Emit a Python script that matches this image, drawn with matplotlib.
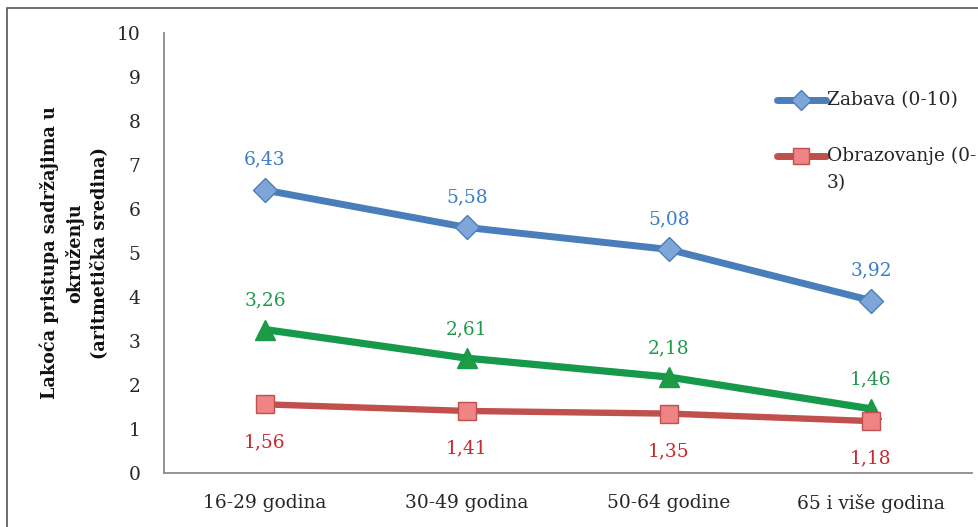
import matplotlib
matplotlib.use("Agg")
import matplotlib.pyplot as plt
from matplotlib.lines import Line2D
from matplotlib.patches import Rectangle

categories = ["16-29 godina", "30-49 godina", "50-64 godine", "65 i više godina"]
zabava = [6.43, 5.58, 5.08, 3.92]
treca = [3.26, 2.61, 2.18, 1.46]
obrazovanje = [1.56, 1.41, 1.35, 1.18]
yticks = list(range(0, 11))
legend_labels = ["Zabava (0-10)", "Obrazovanje (0-", "3)"]
ylabel = "Lakoća pristupa sadržajima u\nokruženju\n(aritmetička sredina)"

plt.rcParams["font.family"] = ["DejaVu Serif"]

W, H = 979, 527
fig = plt.figure(figsize=(W / 100, H / 100), dpi=100)
ax = fig.add_axes([164 / W, 1 - 473 / H, 808 / W, 440 / H])

blue, blue_fill, blue_lab = "#4A7EBB", "#7FA6D8", "#3B7DC8"
green, green_fill, green_lab = "#16994A", "#1E9B45", "#1E9A4A"
red, red_fill, red_lab = "#C0504D", "#EE8486", "#C8282E"
txt = "#262626"

x = list(range(len(categories)))
ax.plot(x, zabava, color=blue, lw=5.0, marker="D", ms=12, mfc=blue_fill,
        mec=blue, mew=1.0, zorder=4, solid_capstyle="round")
ax.plot(x, treca, color=green, lw=5.2, marker="^", ms=15, mfc=green_fill,
        mec=green, mew=1.0, zorder=3, solid_capstyle="round")
ax.plot(x, obrazovanje, color=red, lw=4.6, marker="s", ms=13, mfc=red_fill,
        mec=red, mew=1.0, zorder=5, solid_capstyle="round")

FS = 13.4
for xi, v in zip(x, zabava):
    ax.annotate(f"{v:.2f}".replace(".", ","), (xi, v), xytext=(0, 22),
                textcoords="offset points", ha="center", va="center",
                color=blue_lab, fontsize=FS)
for xi, v in zip(x, treca):
    ax.annotate(f"{v:.2f}".replace(".", ","), (xi, v), xytext=(0, 21),
                textcoords="offset points", ha="center", va="center",
                color=green_lab, fontsize=FS)
for xi, v in zip(x, obrazovanje):
    ax.annotate(f"{v:.2f}".replace(".", ","), (xi, v), xytext=(0, -27),
                textcoords="offset points", ha="center", va="center",
                color=red_lab, fontsize=FS)

ax.set_xlim(-0.5, len(categories) - 0.5)
ax.set_ylim(0, 10)
ax.set_yticks(yticks)
ax.set_yticklabels([str(t) for t in yticks], fontsize=FS, color=txt)
ax.set_xticks(x)
ax.set_xticklabels(categories, fontsize=FS, color=txt)
ax.tick_params(axis="both", length=0)
ax.tick_params(axis="y", pad=17)
ax.tick_params(axis="x", pad=15)
for s in ["top", "right"]:
    ax.spines[s].set_visible(False)
for s in ["left", "bottom"]:
    ax.spines[s].set_color("#8C8C8C")
    ax.spines[s].set_linewidth(1.3)

fig.text(74 / W, 1 - 253 / H, ylabel, rotation=90, ha="center", va="center",
         fontsize=12.7, fontweight="bold", color="#111111",
         multialignment="center", linespacing=1.4)

# legend (manual)
def leg_entry(yp, col, fill, mk, ms, label):
    yf = 1 - yp / H
    fig.add_artist(Line2D([777 / W, 826 / W], [yf, yf], color=col, lw=5.0,
                          solid_capstyle="round", transform=fig.transFigure))
    fig.add_artist(Line2D([801.5 / W], [yf], color=col, marker=mk, ms=ms,
                          mfc=fill, mec=col, lw=0, transform=fig.transFigure))
    fig.text(827 / W, yf, label, ha="left", va="center", fontsize=FS, color=txt)

leg_entry(100, blue, blue_fill, "D", 10, legend_labels[0])
leg_entry(156, red, red_fill, "s", 11, legend_labels[1])
fig.text(827 / W, 1 - 183 / H, legend_labels[2], ha="left", va="center",
         fontsize=FS, color=txt)

# outer frame (clipped on right/bottom)
fig.add_artist(Rectangle((7.5 / W, -0.1), 1.2, (1 - 8 / H) + 0.1, fill=False,
                         ec="#555555", lw=1.2, transform=fig.transFigure))

fig.savefig("out.png", dpi=100)
